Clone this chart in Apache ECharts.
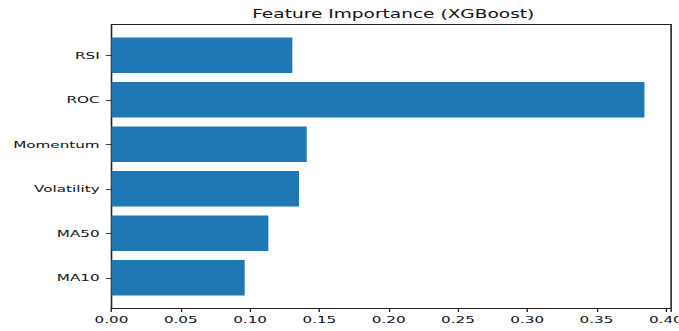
<!DOCTYPE html>
<html>
<head>
<meta charset="utf-8">
<script src="https://cdn.jsdelivr.net/npm/echarts@6/dist/echarts.min.js"></script>
<style>
  html, body { margin: 0; padding: 0; background: #fff; overflow: hidden; }
  #wrap { width: 679px; height: 331px; overflow: hidden; }
  /* the figure is laid out narrower and then stretched sideways */
  #chart { width: 424.375px; height: 331px; transform: scaleX(1.6); transform-origin: 0 0; }
</style>
</head>
<body>
<div id="wrap"><div id="chart"></div></div>
<script>
// feature names, bottom to top
const features = ['MA10', 'MA50', 'Volatility', 'Momentum', 'ROC', 'RSI'];
// importance score of each feature
const importance = [0.0961, 0.1132, 0.1353, 0.1409, 0.3846, 0.1305];
// x tick step
const tickStep = 0.05;

// x range: zero up to the largest score plus a 5% margin
const xMax = Math.max(...importance) * 1.05;

const font = 'DejaVu Sans';
const ink = '#111';

const chart = echarts.init(document.getElementById('chart'), null, { renderer: 'svg' });

chart.setOption({
  animation: false,
  backgroundColor: '#fff',
  title: {
    text: 'Feature Importance (XGBoost)',
    left: 240.8,
    textAlign: 'center',
    top: 3.5,
    textStyle: { fontFamily: font, fontSize: 11.6, fontWeight: 'normal', color: ink }
  },
  grid: [
    // bar area: band edges sit inside the frame by the axis margin
    { left: 69.69, right: 4.56, top: 33, bottom: 31, outerBoundsMode: 'none', containLabel: false },
    // framed axes box
    { left: 69.69, right: 4.56, top: 24.5, bottom: 22.5, outerBoundsMode: 'none', containLabel: false,
      show: true, borderColor: '#222', borderWidth: 1, backgroundColor: 'transparent' }
  ],
  xAxis: [
    { gridIndex: 0, type: 'value', min: 0, max: xMax, show: false },
    {
      gridIndex: 1, type: 'value', min: 0, max: xMax, interval: tickStep,
      axisLine: { show: false },
      splitLine: { show: false },
      axisTick: { show: true, length: 3.5, lineStyle: { color: ink, width: 0.8 } },
      axisLabel: {
        margin: 6.5,
        fontFamily: font, fontSize: 9.5, color: ink,
        hideOverlap: false,
        showMinLabel: true, showMaxLabel: true,
        formatter: v => (v > 0.4 + 1e-9 ? '' : v.toFixed(2))
      }
    }
  ],
  yAxis: [
    {
      gridIndex: 0, type: 'category', data: features,
      axisLine: { show: false },
      splitLine: { show: false },
      axisTick: { show: true, alignWithLabel: true, length: 3.5, lineStyle: { color: ink, width: 0.8 } },
      axisLabel: { margin: 7.4, fontFamily: font, fontSize: 9.5, color: ink }
    },
    { gridIndex: 1, type: 'value', show: false }
  ],
  series: [
    {
      type: 'bar',
      xAxisIndex: 0,
      yAxisIndex: 0,
      data: importance,
      barCategoryGap: '20%',
      itemStyle: { color: '#1f77b4' }
    }
  ]
});
</script>
</body>
</html>
